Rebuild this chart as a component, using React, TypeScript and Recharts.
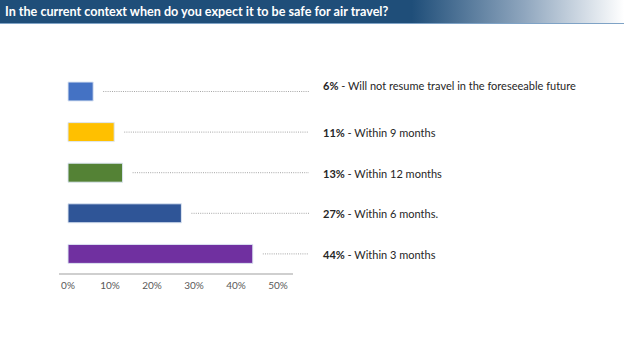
import React from "react"
import { BarChart, Bar, XAxis, YAxis, Cell, LabelList } from "recharts"

const categories = [
  "Will not resume travel in the foreseeable future",
  "Within 9 months",
  "Within 12 months",
  "Within 6 months.",
  "Within 3 months",
]
const shares = [6, 11, 13, 27, 44]
const barColors = ["#4472C4", "#FFC000", "#548235", "#2F5597", "#7030A0"]
const xTicks = [0, 10, 20, 30, 40, 50]

const data = categories.map((name, i) => ({ name, value: shares[i] }))

const FONT = "Lato, 'Open Sans', sans-serif"

// dotted leader + "xx% - label" text on the right
function LeaderLabel(props: any) {
  const { x, y, width, height, index } = props
  const cy = y + height / 2
  const textY = index === 0 ? cy - 7 : cy
  const item = data[index]
  return (
    <g>
      <line
        x1={x + width + 10}
        x2={309}
        y1={cy}
        y2={cy}
        stroke="#A6A6A6"
        strokeWidth={1}
        strokeDasharray="1 1.2"
      />
      <text x={323} y={textY} dominantBaseline="central" fontSize={11} fill="#262626" fontFamily={FONT}>
        <tspan fontWeight="bold">{item.value}%</tspan>
        <tspan> - {item.name}</tspan>
      </text>
    </g>
  )
}

export default function App() {
  return (
    <div style={{ position: "absolute", left: 0, top: 0, width: 624, height: 351, background: "#fff" }}>
      <div
        style={{
          position: "absolute",
          left: 0,
          top: 0,
          width: 624,
          height: 23,
          background: "linear-gradient(90deg, #1F4E79 0%, #1F4E79 66%, #8FA6BE 84%, #ffffff 100%)",
          borderBottom: "1px solid #7FA3C6",
        }}
      >
        <div
          style={{
            position: "absolute",
            left: 5,
            top: 4,
            color: "#fff",
            fontFamily: FONT,
            fontWeight: "bold",
            fontSize: 12.6,
            whiteSpace: "nowrap",
          }}
        >
          In the current context when do you expect it to be safe for air travel?
        </div>
      </div>
      <BarChart
        width={624}
        height={351}
        data={data}
        layout="vertical"
        margin={{ top: 71, right: 331, bottom: 47, left: 59 }}
        style={{ position: "absolute", left: 0, top: 0 }}
      >
        <XAxis
          type="number"
          domain={[0, 50]}
          ticks={xTicks}
          tickFormatter={(v: number) => `${v}%`}
          padding={{ left: 9, right: 15 }}
          axisLine={{ stroke: "#BFBFBF", strokeWidth: 1.5 }}
          tickLine={false}
          tick={{ fill: "#595959", fontSize: 10, fontFamily: FONT }}
          height={30}
        />
        <YAxis
          type="category"
          dataKey="name"
          width={0}
          tick={false}
          tickLine={false}
          axisLine={{ stroke: "#BFBFBF", strokeWidth: 1.5 }}
        />
        <Bar dataKey="value" barSize={19} isAnimationActive={false} stroke="#DDE6F3" strokeWidth={1}>
          {data.map((d, i) => (
            <Cell key={d.name} fill={barColors[i]} />
          ))}
          <LabelList dataKey="value" content={<LeaderLabel />} />
        </Bar>
      </BarChart>
    </div>
  )
}
